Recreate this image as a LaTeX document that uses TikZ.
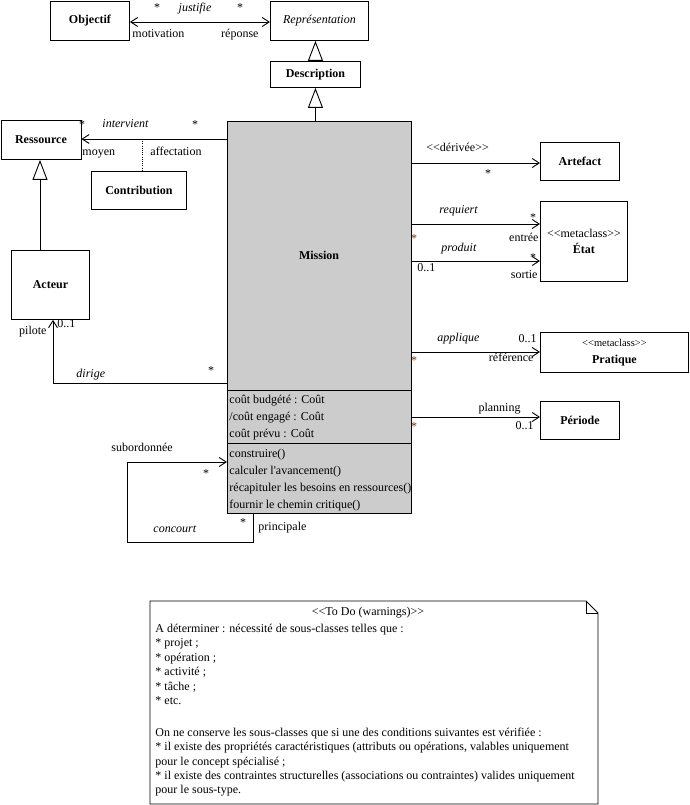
\documentclass[tikz,border=0pt]{standalone}
\usepackage{fontspec}
\setmainfont{Liberation Serif}[Ligatures={TeXOff,NoCommon}]
\usetikzlibrary{arrows.meta}
\definecolor{starc}{RGB}{128,40,0}
\definecolor{missfill}{RGB}{204,204,204}
\begin{document}
\begin{tikzpicture}[x=1pt,y=-1pt,line width=0.9pt,
  every node/.style={inner sep=0pt,font=\fontsize{12}{14}\selectfont},
  cls/.style={draw,fill=white,anchor=north west,align=center,font=\fontsize{12}{14}\selectfont\bfseries},
  lab/.style={anchor=base west},
  labe/.style={anchor=base east},
  itl/.style={anchor=base west,font=\fontsize{12}{14}\selectfont\itshape},
  st/.style={anchor=base},
  stm/.style={anchor=base,text=starc},
  umlbarb/.tip={Straight Barb[length=7pt,width=9pt]},
  assoc/.style={-umlbarb},
  biassoc/.style={umlbarb-umlbarb},
  gen/.style={-{Triangle[open,length=20pt,width=15pt,fill=white]}},
]
\useasboundingbox (0,0) rectangle (689,805);

% classes
\node[cls,minimum width=79pt,minimum height=39pt] (objectif) at (50,1) {Objectif};
\node[cls,minimum width=98pt,minimum height=39pt,font=\fontsize{12}{14}\selectfont\itshape] (repr) at (270,1) {Représentation};
\node[cls,minimum width=90pt,minimum height=26pt] (descr) at (270,61) {Description};
\node[cls,minimum width=80pt,minimum height=39pt] (ress) at (0.5,120) {Ressource};
\node[cls,minimum width=95pt,minimum height=38pt] (contrib) at (91,171) {Contribution};
\node[cls,minimum width=78pt,minimum height=69pt] (acteur) at (11,250) {Acteur};
\node[cls,minimum width=184pt,minimum height=392pt,fill=missfill] (mission) at (227,121) {};
\node[cls,minimum width=79pt,minimum height=38pt] (artefact) at (540,142) {Artefact};
\node[cls,minimum width=87pt,minimum height=80pt,font=\fontsize{12}{16}\selectfont] (etat) at (540,201) {<<metaclass>>\\\textbf{État}};
\node[cls,minimum width=148pt,minimum height=40pt,font=\fontsize{10.5}{17}\selectfont] (pratique) at (540,332) {<<metaclass>>\\\fontsize{12}{17}\selectfont\textbf{Pratique}};
\node[cls,minimum width=79pt,minimum height=38pt] (periode) at (540,401) {Période};

% Mission contents
\node[anchor=base,font=\fontsize{12}{14}\selectfont\bfseries] (missionname) at (319,259) {Mission};
\draw (mission.west |- 0,390) -- (mission.east |- 0,390);
\draw (mission.west |- 0,443) -- (mission.east |- 0,443);
\node[lab] (a1) at (229,403) {coût budgété : Coût};
\node[lab] (a2) at (229,420) {/coût engagé : Coût};
\node[lab] (a3) at (229,437) {coût prévu : Coût};
\node[lab] (m1) at (229,457) {construire()};
\node[lab] (m2) at (229,474) {calculer l'avancement()};
\node[lab] (m3) at (229,491) {récapituler les besoins en ressources()};
\node[lab] (m4) at (229,508) {fournir le chemin critique()};

% justifie
\draw[biassoc] (objectif.east |- 0,22) -- (repr.west |- 0,22);
\node[st] (s1) at (157,12) {*};
\node[itl,anchor=base] (justifie) at (195,12) {justifie};
\node[st] (s2) at (240,12) {*};
\node[lab] (motivation) at (132,38) {motivation};
\node[labe] (reponse) at (259,38) {réponse};

% generalizations
\draw[gen] (descr.north) -- (repr.south -| descr.north);
\draw[gen] (mission.north -| descr.south) -- (descr.south);
\draw[gen] (acteur.north -| 40,0) -- (ress.south -| 40,0);

% intervient
\draw[assoc] (mission.west |- 0,139) -- (ress.east |- 0,139);
\coordinate (ac) at (142,139);
\draw[dash pattern=on 1pt off 1.2pt] (ac) -- (ac |- contrib.north);
\node[st] (s3) at (82,129) {*};
\node[itl] (intervient) at (102,128) {intervient};
\node[st] (s4) at (195,129) {*};
\node[lab] (moyen) at (82,156) {moyen};
\node[lab] (affectation) at (150,156) {affectation};

% dirige
\draw[assoc] (mission.west |- 0,383) -| (acteur.south -| 53,0);
\node[labe] (pilote) at (47,334) {pilote};
\node[lab] (p01) at (57,327) {0..1};
\node[itl] (dirige) at (76,377) {dirige};
\node[st] (s5) at (211,374) {*};

% concourt (self association)
\draw[assoc] (mission.south -| 253,0) |- (127,542) |- (mission.west |- 0,462);
\node[lab] (subord) at (111,451) {subordonnée};
\node[st] (s6) at (206,477) {*};
\node[itl] (concourt) at (153,532) {concourt};
\node[st] (s7) at (243,526) {*};
\node[lab] (principale) at (258,530) {principale};

% derivee
\draw[assoc] (mission.east |- 0,163) -- (artefact.west |- 0,163);
\node[lab] (derivee) at (426,152) {<<dérivée>>};
\node[st] (s8) at (488,178) {*};

% requiert / produit
\draw[assoc] (mission.east |- 0,224) -- (etat.west |- 0,224);
\draw[assoc] (mission.east |- 0,261) -- (etat.west |- 0,261);
\node[itl] (requiert) at (439,213) {requiert};
\node[st] (s9) at (533,221) {*};
\node[stm] (s10) at (414,242) {*};
\node[labe] (entree) at (539,241) {entrée};
\node[itl] (produit) at (441,251) {produit};
\node[st] (s11) at (533,261) {*};
\node[lab] (e01) at (417,271) {0..1};
\node[labe] (sortie) at (538,278) {sortie};

% applique
\draw[assoc] (mission.east |- 0,352) -- (pratique.west |- 0,352);
\node[itl] (applique) at (437,341) {applique};
\node[labe] (r01) at (537,342) {0..1};
\node[labe] (reference) at (534,361) {référence};
\node[stm] (s12) at (414,364) {*};

% planning
\draw[assoc] (mission.east |- 0,417) -- (periode.west |- 0,417);
\node[labe] (planning) at (521,411) {planning};
\node[labe] (pl01) at (534,429) {0..1};
\node[stm] (s13) at (414,430) {*};

% note
\draw[fill=white] (150,601) -- (586,601) -- (598,613) -- (598,804) -- (150,804) -- cycle;
\draw (586,601) -- (586,613) -- (598,613);
\node[anchor=base] (ntitle) at (368,615) {<<To Do (warnings)>>};
\foreach \t [count=\i] in {{A déterminer : nécessité de sous-classes telles que :},{* projet ;},{* opération ;},{* activité ;},{* tâche ;},{* etc.}}
  \node[lab] (na\i) at (155,{617.6+14.5*\i}) {\t};
\foreach \t [count=\i] in {{On ne conserve les sous-classes que si une des conditions suivantes est vérifiée :},{* il existe des propriétés caractéristiques (attributs ou opérations, valables uniquement},{pour le concept spécialisé ;},{* il existe des contraintes structurelles (associations ou contraintes) valides uniquement},{pour le sous-type.}}
  \node[lab] (nb\i) at (155,{722.3+14.3*\i}) {\t};
\end{tikzpicture}
\end{document}
